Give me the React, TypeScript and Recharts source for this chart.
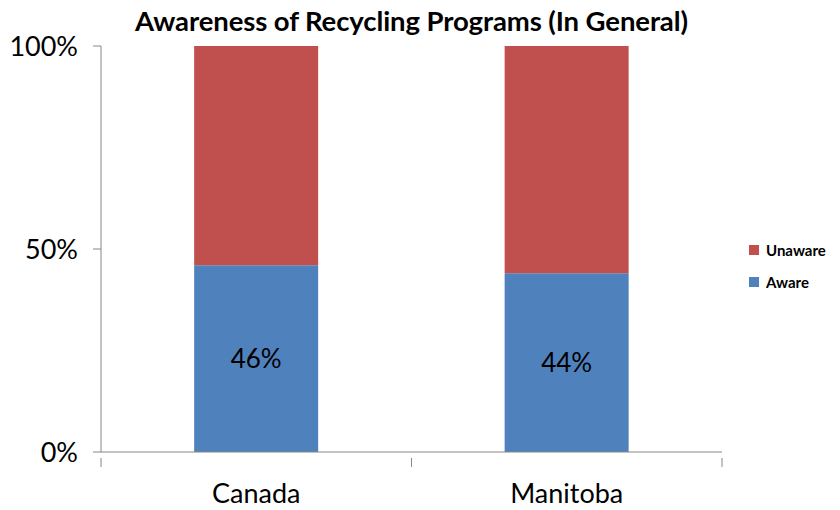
import { BarChart, Bar, XAxis, YAxis, LabelList } from 'recharts';

const regions = ['Canada', 'Manitoba'];
const aware = [46, 44];
const unaware = [54, 56];
const yTicks = [0, 50, 100];

const data = regions.map((region, i) => ({
    region,
    aware: aware[i],
    unaware: unaware[i],
}));

const FONT = 'Lato, "Open Sans", sans-serif';
const AXIS = '#868686';
const W = 840;
const H = 510;
const X_H = 58;
const M = { top: 46, right: 118, bottom: 0, left: 0 };
const Y_W = 101;

function CategoryTick(props: any) {
    const { x, y, payload, index, visibleTicksCount } = props;
    const count = visibleTicksCount || regions.length;
    const band = (W - M.left - M.right - Y_W) / count;
    const half = band / 2;
    const last = index === count - 1;
    return (
        <g>
            <line x1={x - half} x2={x - half} y1={y - 2} y2={y + 7} stroke={AXIS} />
            {last && <line x1={x + half} x2={x + half} y1={y - 2} y2={y + 7} stroke={AXIS} />}
            <text x={x} y={y + 43} textAnchor="middle" fontSize={27} fontFamily={FONT} fill="#000">
                {payload.value}
            </text>
        </g>
    );
}

const legendItems = [
    { name: 'Unaware', color: '#C0504D', top: 242 },
    { name: 'Aware', color: '#4F81BD', top: 274 },
];

export default function App() {
    return (
        <div style={{ position: 'absolute', left: 0, top: 0, width: W, height: H, background: '#fff' }}>
            <div
                style={{
                    position: 'absolute',
                    top: 4,
                    left: Y_W,
                    width: W - Y_W - M.right,
                    textAlign: 'center',
                    fontFamily: FONT,
                    fontWeight: 700,
                    fontSize: 27.5,
                    letterSpacing: -0.1,
                    color: '#000',
                    zIndex: 1,
                }}
            >
                Awareness of Recycling Programs (In General)
            </div>
            {legendItems.map((it) => (
                <div
                    key={it.name}
                    style={{
                        position: 'absolute',
                        left: 749,
                        top: it.top,
                        height: 16,
                        display: 'flex',
                        alignItems: 'center',
                        fontFamily: FONT,
                        fontWeight: 700,
                        fontSize: 15,
                        color: '#000',
                        zIndex: 1,
                    }}
                >
                    <span style={{ width: 10, height: 10, background: it.color, marginRight: 7, display: 'inline-block' }} />
                    {it.name}
                </div>
            ))}
            <BarChart width={W} height={H} data={data} margin={M} barCategoryGap="30%">
                <XAxis
                    dataKey="region"
                    stroke={AXIS}
                    tickLine={false}
                    tick={<CategoryTick />}
                    interval={0}
                    height={X_H}
                />
                <YAxis
                    width={Y_W}
                    domain={[0, 100]}
                    ticks={yTicks}
                    stroke={AXIS}
                    tickSize={8}
                    tickFormatter={(v) => `${v}%`}
                    tick={{ fill: '#000', fontSize: 27, fontFamily: FONT }}
                    tickMargin={15}
                />
                <Bar dataKey="aware" stackId="a" fill="#4F81BD" name="Aware" isAnimationActive={false}>
                    <LabelList
                        dataKey="aware"
                        position="center"
                        formatter={(v: any) => `${v}%`}
                        style={{ fill: '#000', fontSize: 26, fontFamily: FONT }}
                    />
                </Bar>
                <Bar dataKey="unaware" stackId="a" fill="#C0504D" name="Unaware" isAnimationActive={false} />
            </BarChart>
        </div>
    );
}
